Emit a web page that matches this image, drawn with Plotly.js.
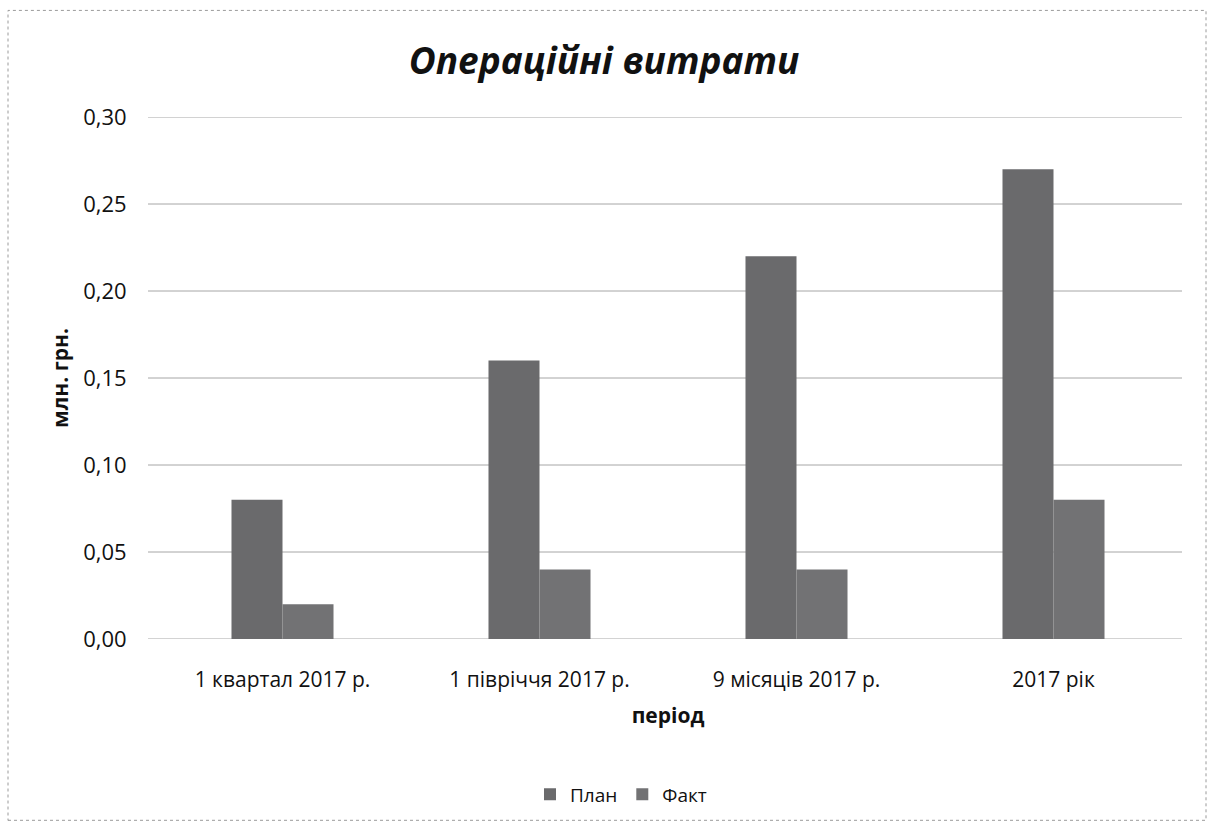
<!DOCTYPE html>
<html>
<head>
<meta charset="utf-8">
<script src="https://cdn.plot.ly/plotly-3.0.1.min.js"></script>
<style>html,body{margin:0;padding:0;background:#fff;}#chart{width:1208px;height:825px;}</style>
</head>
<body>
<div id="chart"></div>
<script>
const categories = ["1 квартал 2017 р.", "1 півріччя 2017 р.", "9 місяців 2017 р.", "2017 рік"];
const planValues = [0.08, 0.16, 0.22, 0.27];
const factValues = [0.02, 0.04, 0.04, 0.08];
const yTicks = [0, 0.05, 0.10, 0.15, 0.20, 0.25, 0.30];

const font = "Open Sans, Noto Sans, sans-serif";
const W = 1208, H = 825, L = 154, R = 26, T = 117, B = 184;
const pw = W - L - R, ph = H - T - B;
function px(x){return (x - L) / pw;}
function py(y){return (H - B - y) / ph;}

const traces = [
  {type: "bar", name: "План", x: categories, y: planValues, marker: {color: "#6a6a6c"}},
  {type: "bar", name: "Факт", x: categories, y: factValues, marker: {color: "#727274"}}
];

const gridShapes = yTicks.map(v => ({
  type: "line", xref: "paper", yref: "y", x0: px(148), x1: 1, y0: v, y1: v,
  line: {color: "#a6a6a6", width: 1}, layer: "below"
}));

const layout = {
  width: W, height: H,
  margin: {l: L, r: R, t: T, b: B},
  paper_bgcolor: "#ffffff", plot_bgcolor: "#ffffff",
  separators: ",.",
  barmode: "group", bargap: 0.603, bargroupgap: 0,
  font: {family: font, color: "#111"},
  title: {text: "<b><i>Операційні витрати</i></b>", font: {size: 37, family: font, color: "#111"}, x: 0.5, xanchor: "center", y: 1 - 61/H, yanchor: "middle"},
  xaxis: {
    tickfont: {size: 21, family: font, color: "#111"},
    title: {text: "<b>період</b>", font: {size: 21, family: font, color: "#111"}, standoff: 16},
    showline: false, showgrid: false,
    ticks: "outside", ticklen: 22, tickcolor: "rgba(0,0,0,0)"
  },
  yaxis: {
    range: [0, 0.3], tickvals: yTicks, tickformat: ".2f",
    tickfont: {size: 22, family: font, color: "#111"},
    showgrid: false, zeroline: false,
    showline: false, ticks: "outside", ticklen: 22, tickcolor: "rgba(0,0,0,0)",
    title: {text: "<b>млн. грн.</b>", font: {size: 21, family: font, color: "#111"}, standoff: 8}
  },
  legend: {orientation: "h", x: px(621), xanchor: "center", y: py(797), yanchor: "middle", font: {size: 19, family: font, color: "#111"}, itemwidth: 30},
  shapes: [
    {type: "rect", xref: "paper", yref: "paper", x0: px(8), x1: px(1206), y0: py(823), y1: py(10), line: {color: "#9a9a9a", width: 1, dash: "dot"}, fillcolor: "rgba(0,0,0,0)", layer: "below"}
  ].concat(gridShapes),
  showlegend: true
};

Plotly.newPlot("chart", traces, layout, {displayModeBar: false, staticPlot: true});
</script>
</body>
</html>
